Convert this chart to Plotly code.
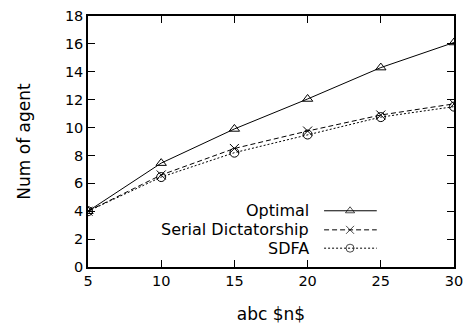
import plotly.graph_objects as go

n_values = [5, 10, 15, 20, 25, 30]
optimal = [4.0, 7.45, 9.9, 12.05, 14.3, 16.1]
serial_dictatorship = [4.0, 6.6, 8.5, 9.75, 10.9, 11.7]
sdfa = [4.0, 6.45, 8.2, 9.5, 10.75, 11.5]

series_names = ["Optimal", "Serial Dictatorship", "SDFA"]
series_values = [optimal, serial_dictatorship, sdfa]
series_dash = ["solid", "5px,3px", "2px,2px"]
series_symbol = ["triangle-up-open", "x-thin-open", "circle-open"]

x_ticks = [5, 10, 15, 20, 25, 30]
y_ticks = [0, 2, 4, 6, 8, 10, 12, 14, 16, 18]

FONT = "DejaVu Sans, sans-serif"
FS_TICK = 14.5
FS_TEXT = 17
FS_LEGEND = 16

fig = go.Figure()
for name, vals, dash, sym in zip(series_names, series_values, series_dash, series_symbol):
    fig.add_trace(go.Scatter(
        x=n_values, y=vals, name=name, mode="lines+markers",
        line=dict(color="black", width=1, dash=dash),
        marker=dict(symbol=sym, size=9, color="black", line=dict(width=1, color="black")),
        showlegend=False,
    ))

# custom gnuplot-style legend (text right-aligned, sample to the right)
legend_rows = [0.224, 0.148, 0.075]
for name, dash, sym, ly in zip(series_names, series_dash, series_symbol, legend_rows):
    fig.add_trace(go.Scatter(
        x=[0.645, 0.716, 0.789], y=[ly, ly, ly], xaxis="x2", yaxis="y2",
        mode="lines+markers", showlegend=False, hoverinfo="skip",
        line=dict(color="black", width=1, dash=dash),
        marker=dict(symbol=sym, size=[0, 8, 0], color="black", line=dict(width=1, color="black")),
    ))
    fig.add_annotation(x=0.608, y=ly, xref="paper", yref="paper", text=name,
                       showarrow=False, xanchor="right", yanchor="middle",
                       font=dict(family=FONT, size=FS_LEGEND, color="black"))

axis_common = dict(showgrid=False, zeroline=False, showline=True, linecolor="black",
                   linewidth=1.5, mirror="ticks", ticks="inside", ticklen=7,
                   tickcolor="black", tickwidth=1, ticklabeloverflow="allow",
                   automargin=False,
                   tickfont=dict(family=FONT, size=FS_TICK, color="black"))

fig.update_layout(
    width=465, height=319,
    margin=dict(l=80, r=19, t=8, b=60),
    paper_bgcolor="white", plot_bgcolor="white",
    xaxis=dict(range=[5, 30], tickvals=x_ticks,
               title=dict(text="abc $n$", font=dict(family=FONT, size=FS_TEXT, color="black"), standoff=20),
               **axis_common),
    yaxis=dict(range=[0, 18], tickvals=y_ticks,
               title=dict(text="Num of agent", font=dict(family=FONT, size=FS_TEXT, color="black"), standoff=30),
               **axis_common),
    xaxis2=dict(range=[0, 1], overlaying="x", visible=False),
    yaxis2=dict(range=[0, 1], overlaying="y", visible=False),
    showlegend=False,
)

fig.write_html("out.html")
